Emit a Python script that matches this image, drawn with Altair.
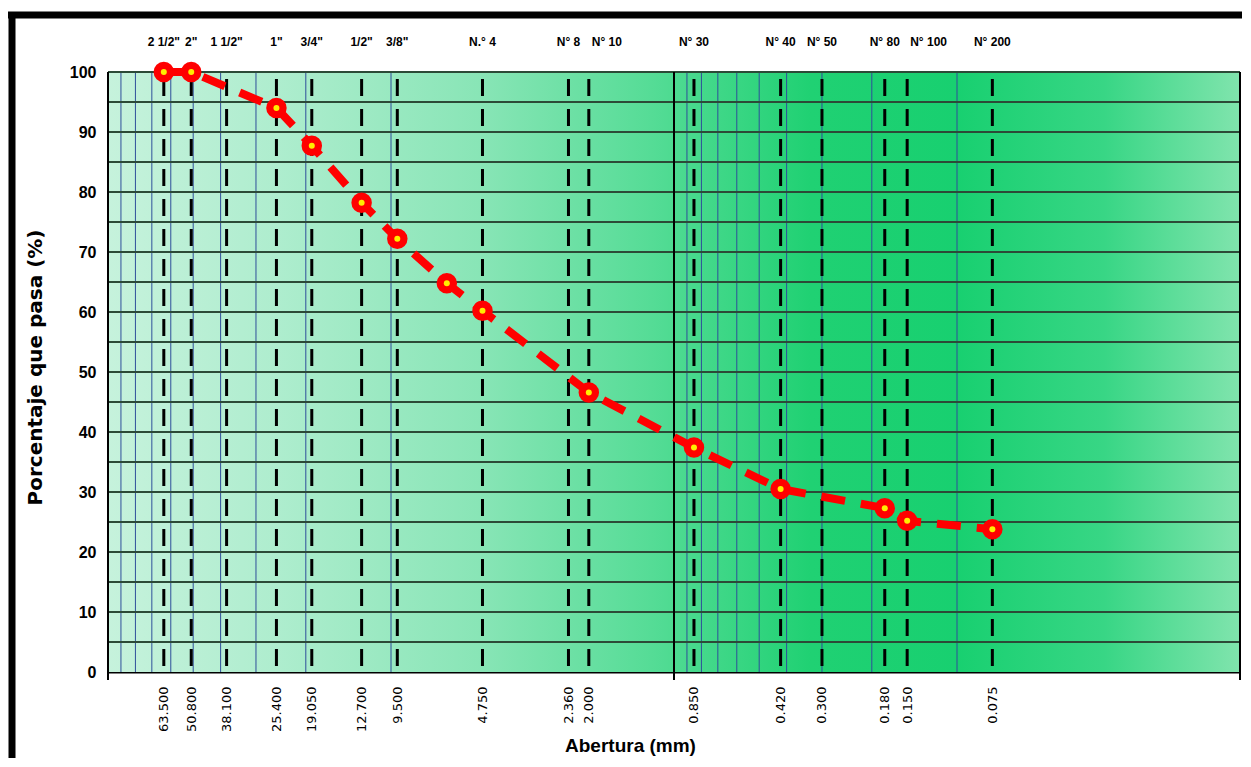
import altair as alt
import pandas as pd

# ---- data ----
sieve_sizes = [63.5, 50.8, 38.1, 25.4, 19.05, 12.7, 9.5, 4.75, 2.36, 2.0, 0.85, 0.42, 0.30, 0.18, 0.15, 0.075]
sieve_names = ['2 1/2"', '2"', '1 1/2"', '1"', '3/4"', '1/2"', '3/8"', 'N.° 4', 'N° 8', 'N° 10',
               'N° 30', 'N° 40', 'N° 50', 'N° 80', 'N° 100', 'N° 200']
curve_size = [63.5, 50.8, 25.4, 19.05, 12.7, 9.5, 6.35, 4.75, 2.0, 0.85, 0.42, 0.18, 0.15, 0.075]
curve_pass = [100, 100, 94.0, 87.7, 78.2, 72.2, 64.8, 60.2, 46.6, 37.4, 30.5, 27.3, 25.2, 23.8]
minor_x = [90, 80, 70, 60, 50, 40, 30, 20, 10, 0.9, 0.8, 0.7, 0.6, 0.5, 0.4, 0.3, 0.2, 0.1]
major_x = [100, 1, 0.01]
grid_y = [5, 10, 15, 20, 25, 30, 35, 40, 45, 50, 55, 60, 65, 70, 75, 80, 85, 90, 95, 100]
y_ticks = [0, 10, 20, 30, 40, 50, 60, 70, 80, 90, 100]
left_aligned_names = ['N° 10', 'N° 100']

W, H = 1132, 600
SANS = "Liberation Sans, Arial, sans-serif"

sieves = pd.DataFrame({"size": sieve_sizes, "name": sieve_names})
curve = pd.DataFrame({"size": curve_size, "pct": curve_pass})
minor = pd.DataFrame({"size": minor_x})
major = pd.DataFrame({"size": major_x})
hgrid = pd.DataFrame({"pct": grid_y})
dummy = pd.DataFrame({"a": [0]})

xscale = alt.Scale(type="log", domain=[0.01, 100], reverse=True, nice=False)
yscale = alt.Scale(domain=[0, 100], nice=False)

xaxis = alt.Axis(
    values=sieve_sizes, labelExpr="format(datum.value, '.3f')", labelAngle=270,
    labelFont="DejaVu Sans", labelFontSize=13, labelColor="black", labelPadding=14,
    ticks=False, grid=False, domainColor="black", domainWidth=2,
    title="Abertura (mm)", titleFont=SANS, titleFontSize=19, titleFontWeight="bold",
    titleColor="black", titleX=522, titleY=73, titleAlign="center",
    titleBaseline="middle", labelOverlap=False,
)
yaxis = alt.Axis(
    values=y_ticks, labelFont=SANS, labelFontSize=16, labelFontWeight="bold",
    labelColor="black", labelPadding=12, ticks=False, grid=False,
    domainColor="black", domainWidth=2,
    title="Porcentaje que pasa (%)", titleFont="DejaVu Sans", titleFontSize=20,
    titleFontWeight="bold", titleColor="black", titleX=-73, titleY=295,
    titleAlign="center", titleBaseline="middle", titleAngle=270,
)

X = alt.X("size:Q", scale=xscale, axis=xaxis)
Y = alt.Y("pct:Q", scale=yscale, axis=yaxis)

gradient = {
    "gradient": "linear", "x1": 0, "y1": 0, "x2": 1, "y2": 0,
    "stops": [
        {"offset": 0.0, "color": "#c6f2dc"},
        {"offset": 0.15, "color": "#aeedce"},
        {"offset": 0.33, "color": "#88e5b6"},
        {"offset": 0.48, "color": "#55dc96"},
        {"offset": 0.62, "color": "#20d173"},
        {"offset": 0.75, "color": "#18d070"},
        {"offset": 0.88, "color": "#38d685"},
        {"offset": 1.0, "color": "#80e4ad"},
    ],
}

bg = alt.Chart(dummy).mark_rect(color=gradient).encode(
    x=alt.value(0), x2=alt.value(W), y=alt.value(0), y2=alt.value(H)
)

minor_lines = alt.Chart(minor).mark_rule(color="#2f4f9a", strokeWidth=1).encode(x=X)

h_lines = alt.Chart(hgrid).mark_rule(color="#2c4a37", strokeWidth=2).encode(y=Y)

major_lines = alt.Chart(major).mark_rule(color="black", strokeWidth=2).encode(
    x=X, y=alt.value(0), y2=alt.value(H + 8)
)

dashed = alt.Chart(sieves).mark_rule(
    color="black", strokeWidth=3, strokeDash=[17, 13], strokeDashOffset=23
).encode(x=X)

line = alt.Chart(curve).mark_line(
    color="#ff0000", strokeWidth=8, strokeDash=[24, 16], strokeCap="butt"
).encode(x=X, y=Y)

dots = alt.Chart(curve).mark_point(
    shape="circle", filled=True, color="#ff0000", size=420, opacity=1
).encode(x=X, y=Y)

centers = alt.Chart(curve).mark_point(
    shape="circle", filled=True, color="#ffee00", size=36, opacity=1
).encode(x=X, y=Y)

label_filter = alt.FieldOneOfPredicate(field="name", oneOf=left_aligned_names)

top_labels = alt.Chart(sieves).transform_filter(~label_filter).mark_text(
    font=SANS, fontSize=12, fontWeight="bold", color="black", baseline="middle"
).encode(x=X, y=alt.value(-30), text="name:N")

top_labels_left = alt.Chart(sieves).transform_filter(label_filter).mark_text(
    font=SANS, fontSize=12, fontWeight="bold", color="black", baseline="middle",
    align="left", dx=3
).encode(x=X, y=alt.value(-30), text="name:N")

frame_left = alt.Chart(dummy).mark_rule(color="black", strokeWidth=7).encode(
    x=alt.value(-96), y=alt.value(-60), y2=alt.value(H + 90)
)
frame_top = alt.Chart(dummy).mark_rule(color="black", strokeWidth=7).encode(
    x=alt.value(-100), x2=alt.value(W + 20), y=alt.value(-57)
)

chart = alt.layer(
    bg, minor_lines, h_lines, major_lines, dashed, line, dots, centers,
    top_labels, top_labels_left, frame_left, frame_top,
).properties(
    width=W, height=H,
    autosize=alt.AutoSizeParams(type="none"),
    padding={"left": 100, "top": 64, "right": 2, "bottom": 86},
).configure_view(stroke=None).configure(background="white")

chart.save("out.html", embed_options={"renderer": "svg", "actions": False})
